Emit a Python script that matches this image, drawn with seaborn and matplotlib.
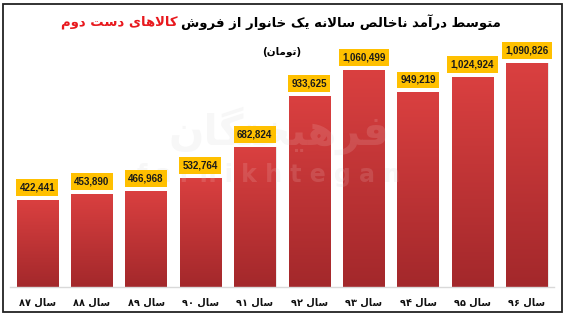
import numpy as np
import pandas as pd
import matplotlib
matplotlib.use("Agg")
import matplotlib.pyplot as plt
import seaborn as sns
from matplotlib.patches import Rectangle

# ---------------- data ----------------
years = ["۸۷", "۸۸", "۸۹", "۹۰", "۹۱", "۹۲", "۹۳", "۹۴", "۹۵", "۹۶"]
values = [422441, 453890, 466968, 532764, 682824, 933625, 1060499, 949219, 1024924, 1090826]
tick_prefix = "سال"
title_black = "متوسط درآمد ناخالص سالانه یک خانوار از فروش"
title_red = "کالاهای دست دوم"
subtitle = "(تومان)"
watermark_fa = "فرهیختگان"
watermark_en = "farhikhtegan"

# ---------------- minimal Arabic/Persian shaper ----------------
FORMS = {  # isolated, final, initial, medial
    "ا": (0xFE8D, 0xFE8E, None, None),
    "آ": (0xFE81, 0xFE82, None, None),
    "ت": (0xFE95, 0xFE96, 0xFE97, 0xFE98),
    "خ": (0xFEA5, 0xFEA6, 0xFEA7, 0xFEA8),
    "د": (0xFEA9, 0xFEAA, None, None),
    "ر": (0xFEAD, 0xFEAE, None, None),
    "ز": (0xFEAF, 0xFEB0, None, None),
    "س": (0xFEB1, 0xFEB2, 0xFEB3, 0xFEB4),
    "ش": (0xFEB5, 0xFEB6, 0xFEB7, 0xFEB8),
    "ص": (0xFEB9, 0xFEBA, 0xFEBB, 0xFEBC),
    "ط": (0xFEC1, 0xFEC2, 0xFEC3, 0xFEC4),
    "ف": (0xFED1, 0xFED2, 0xFED3, 0xFED4),
    "ل": (0xFEDD, 0xFEDE, 0xFEDF, 0xFEE0),
    "م": (0xFEE1, 0xFEE2, 0xFEE3, 0xFEE4),
    "ن": (0xFEE5, 0xFEE6, 0xFEE7, 0xFEE8),
    "ه": (0xFEE9, 0xFEEA, 0xFEEB, 0xFEEC),
    "و": (0xFEED, 0xFEEE, None, None),
    "ی": (0xFBFC, 0xFBFD, 0xFBFE, 0xFBFF),
    "ک": (0xFB8E, 0xFB8F, 0xFB90, 0xFB91),
    "گ": (0xFB92, 0xFB93, 0xFB94, 0xFB95),
    "LA": (0xFEFB, 0xFEFC, None, None),
}


def shape_word(word):
    chars = []
    i = 0
    while i < len(word):
        if word[i] == "ل" and i + 1 < len(word) and word[i + 1] == "ا":
            chars.append("LA")
            i += 2
        else:
            chars.append(word[i])
            i += 1
    out = []
    for k, c in enumerate(chars):
        if c not in FORMS:
            out.append(c)
            continue
        iso, fin, ini, med = FORMS[c]
        prev = chars[k - 1] if k > 0 else None
        nxt = chars[k + 1] if k + 1 < len(chars) else None
        join_prev = prev in FORMS and FORMS[prev][2] is not None
        join_next = ini is not None and nxt in FORMS
        if join_prev and join_next:
            cp = med
        elif join_prev:
            cp = fin
        elif join_next:
            cp = ini
        else:
            cp = iso
        out.append(chr(cp))
    return "".join(out)


MIRROR = {"(": ")", ")": "("}


def rtl(text):
    words = text.split(" ")
    vis = []
    for w in words:
        if all(ch in "۰۱۲۳۴۵۶۷۸۹0123456789,." for ch in w):
            vis.append(w)
        else:
            s = shape_word(w)
            vis.append("".join(MIRROR.get(ch, ch) for ch in reversed(s)))
    return " ".join(reversed(vis))


# ---------------- figure ----------------
sns.set_theme(style="white")
plt.rcParams["font.family"] = ["DejaVu Sans"]

W, H = 565, 316
fig = plt.figure(figsize=(W / 100, H / 100), dpi=100)
ax = fig.add_axes([10 / W, (H - 287) / H, (554 - 10) / W, (287 - 41) / H])

labels = [rtl(f"{tick_prefix} {y}") for y in years]
df = pd.DataFrame({"year": labels, "value": values})
sns.barplot(data=df, x="year", y="value", ax=ax, color="#D43C3C", width=0.76,
            saturation=1, zorder=2)
ax.set_xlabel("")
ax.set_ylabel("")
ax.set_yticks([])
for s in ["top", "left", "right"]:
    ax.spines[s].set_visible(False)
ax.spines["bottom"].set_color("#D9D9D9")
ax.spines["bottom"].set_linewidth(1.0)
ax.tick_params(axis="x", length=0, pad=8, labelsize=7)
for t in ax.get_xticklabels():
    t.set_fontweight("bold")
    t.set_color("#111111")

# gradient fill for bars
grad = np.linspace(0, 1, 256).reshape(-1, 1)
top_c = np.array([218, 64, 64]) / 255
bot_c = np.array([163, 40, 43]) / 255
img = (bot_c[None, None, :] * (1 - grad[:, :, None]) + top_c[None, None, :] * grad[:, :, None])
for p in ax.patches:
    x0, y0 = p.get_x(), p.get_y()
    w, h = p.get_width(), p.get_height()
    im = ax.imshow(img, extent=[x0, x0 + w, y0, y0 + h], origin="lower",
                   aspect="auto", zorder=2.5)
    im.set_clip_path(p)
    ax.add_patch(Rectangle((x0 + w, 0), 0.02, h, color="#E6E6E6", zorder=1.5, lw=0))
ax.set_xlim(-0.5, len(values) - 0.5)
ax.set_ylim(0, 1200000)

# watermark (faint, between bars and labels)
wx = 4.45
for col, a, z in [("white", 0.12, 3), ("#f7f7f7", 1.0, 1)]:
    ax.text(wx, 760000, rtl(watermark_fa), fontsize=30, fontweight="bold", color=col,
            alpha=a, ha="center", va="center", zorder=z)
    ax.text(wx - 0.2, 545000, " ".join(watermark_en), fontsize=17, fontweight="bold",
            color=col, alpha=a, ha="center", va="center", zorder=z)

# value labels
for i, v in enumerate(values):
    ax.annotate(f"{v:,}", (i, v), xytext=(0, 9), textcoords="offset points",
                ha="center", va="center", fontsize=7, fontweight="bold", color="#1a1a1a",
                family="Liberation Sans",
                bbox=dict(boxstyle="square,pad=0.35", fc="#FFC000", ec="none"), zorder=4)

# title (black part on the right, red part on the left)
fig.canvas.draw()
r = fig.canvas.get_renderer()
ty = 1 - 22 / H
t_black = fig.text(0.5, ty, rtl(title_black), fontsize=9.5, fontweight="bold",
                   color="black", ha="left", va="center")
t_red = fig.text(0.5, ty, rtl(title_red), fontsize=9.5, fontweight="bold",
                 color="#E8191E", ha="left", va="center")
wb = t_black.get_window_extent(r).width
wr = t_red.get_window_extent(r).width
gap = 4
total = wb + wr + gap
left = 281 - total / 2
t_red.set_x(left / W)
t_black.set_x((left + wr + gap) / W)

fig.text(282 / W, 1 - 52 / H, rtl(subtitle), fontsize=7.5, fontweight="bold",
         color="black", ha="center", va="center")

# frame
fig.add_artist(Rectangle((3 / W, 4 / H), 559 / W, 308 / H, transform=fig.transFigure,
                         fill=False, ec="#222222", lw=1.3))

fig.savefig("out.png", dpi=100)
